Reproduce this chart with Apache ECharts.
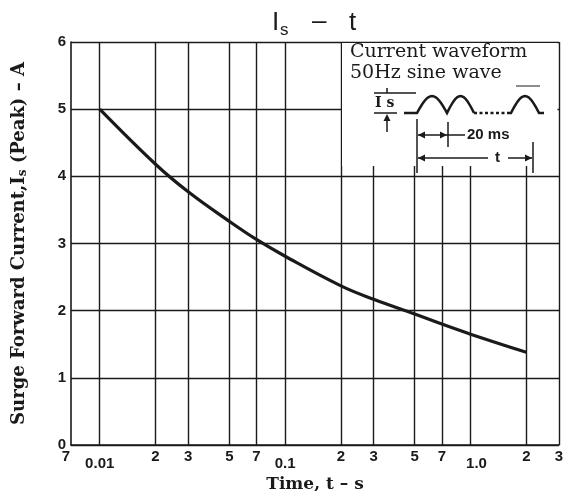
<!DOCTYPE html>
<html><head><meta charset="utf-8">
<script src="https://cdn.jsdelivr.net/npm/echarts@6/dist/echarts.min.js"></script>
<style>html,body{margin:0;padding:0;background:#fff}#c{width:574px;height:491px}</style>
</head><body><div id="c"></div>
<script>
// Data
const timeS  = [0.01, 0.02, 0.03, 0.05, 0.07, 0.1, 0.2, 0.3, 0.5, 0.7, 1.0, 2];
const surgeA = [5.0, 4.18, 3.77, 3.33, 3.06, 2.81, 2.37, 2.17, 1.95, 1.8, 1.65, 1.38];
const xTickValues = [0.007, 0.01, 0.02, 0.03, 0.05, 0.07, 0.1, 0.2, 0.3, 0.5, 0.7, 1, 2, 3];
const xTickLabels = ['7', '0.01', '2', '3', '5', '7', '0.1', '2', '3', '5', '7', '1.0', '2', '3'];
const xGridValues = [0.01, 0.02, 0.03, 0.05, 0.07, 0.1, 0.2, 0.3, 0.5, 0.7, 1, 2, 3];
const yMin = 0, yMax = 6, yStep = 1;

const chart = echarts.init(document.getElementById('c'), null, {renderer: 'canvas'});
const INK = '#1a1a1a';
const serif = 'DejaVu Serif';

function hump(x0, w, yb, h) {
  const pts = [];
  for (let i = 0; i <= 16; i++) {
    const t = i / 16;
    pts.push([x0 + t * w, yb - h * Math.sin(Math.PI * t)]);
  }
  return pts;
}
const yb = 113, hh = 17;
const wave = [[404, yb], [417, yb]].concat(hump(417, 30, yb, hh)).concat(hump(447, 27, yb, hh));
const wave2 = [[508, yb]].concat(hump(511, 28, yb, hh)).concat([[544, yb]]);

function arrowHead(x, y, dir) {
  return {type: 'polygon', zlevel: 1, shape: {points: [[x, y], [x - dir * 7, y - 3.5], [x - dir * 7, y + 3.5]]}, style: {fill: INK}};
}
function ln(x1, y1, x2, y2, w, dash) {
  return {type: 'line', zlevel: 1, shape: {x1, y1, x2, y2}, style: {stroke: INK, lineWidth: w || 1.5, lineDash: dash || null}};
}

const graphics = [
  // title
  {type: 'text', left: 272, top: 10, style: {text: 'I', font: '26px Liberation Sans', fill: INK}},
  {type: 'text', left: 280, top: 22, style: {text: 's', font: '17px Liberation Sans', fill: INK}},
  {type: 'text', left: 312, top: 9, style: {text: '–', font: '26px Liberation Sans', fill: INK}},
  {type: 'text', left: 349, top: 10, style: {text: 't', font: '26px Liberation Sans', fill: INK}},
  // inset
  {type: 'rect', zlevel: 1, shape: {x: 342, y: 43, width: 215.5, height: 123}, style: {fill: '#fff'}},
  {type: 'text', zlevel: 1, x: 350, y: 43, style: {text: 'Current waveform', font: '19px ' + serif, fill: INK}},
  {type: 'text', zlevel: 1, x: 350, y: 64, style: {text: '50Hz sine wave', font: '19px ' + serif, fill: INK}},
  ln(516, 86, 540, 86, 1),
  {type: 'text', zlevel: 1, x: 375, y: 96, style: {text: 'I s', font: 'bold 14px ' + serif, fill: INK}},
  ln(374, 93, 416, 93, 1.5),
  ln(387, 88, 387, 93, 1.5),
  ln(374, 113, 397, 113, 1.5),
  ln(387, 116, 387, 132, 1.5),
  {type: 'polygon', zlevel: 1, shape: {points: [[387, 114], [383.5, 121], [390.5, 121]]}, style: {fill: INK}},
  {type: 'polyline', zlevel: 1, shape: {points: wave}, style: {stroke: INK, lineWidth: 2.5, fill: null}},
  ln(474, yb, 508, yb, 2.5, [3, 2.5]),
  {type: 'polyline', zlevel: 1, shape: {points: wave2}, style: {stroke: INK, lineWidth: 2.5, fill: null}},
  ln(417, 119, 417, 173, 1.5),
  ln(448, 122, 448, 147, 1.5),
  ln(533, 142, 533, 173, 1.5),
  ln(418, 135, 465, 135, 1.5),
  arrowHead(418, 135, -1), arrowHead(447, 135, 1),
  {type: 'text', zlevel: 1, x: 467, y: 127, style: {text: '20 ms', font: 'bold 15px Liberation Sans', fill: INK}},
  ln(418, 158, 488, 158, 1.5),
  arrowHead(418, 158, -1),
  {type: 'text', zlevel: 1, x: 495, y: 150, style: {text: 't', font: 'bold 15px Liberation Sans', fill: INK}},
  ln(508, 158, 532, 158, 1.5),
  arrowHead(532, 158, 1)
];

const option = {
  backgroundColor: '#fff',
  animation: false,
  grid: {left: 71, right: 15, top: 42, bottom: 46, containLabel: false, outerBoundsMode: 'none'},
  xAxis: {
    type: 'log', logBase: 10, min: 0.007, max: 3,
    name: 'Time, t – s', nameLocation: 'middle', nameGap: 22,
    nameTextStyle: {fontFamily: serif, fontWeight: 'bold', fontSize: 17, color: INK},
    axisLine: {show: true, lineStyle: {color: INK, width: 1.6}},
    axisTick: {show: false, customValues: xTickValues},
    splitLine: {show: false},
    axisLabel: {
      customValues: xTickValues,
      margin: 4,
      fontFamily: 'Liberation Sans', fontWeight: 'bold', fontSize: 15, color: INK,
      formatter: function (v) {
        const i = xTickValues.findIndex(t => Math.abs(t - v) / t < 1e-6);
        if (i < 0) return '';
        const s = xTickLabels[i];
        if (i === 0) return '{l|' + s + '}';
        if (s === '1.0') return '{r|' + s + '}';
        return s.indexOf('.') >= 0 ? '{d|' + s + '}' : s;
      },
      rich: {
        d: {fontFamily: 'Liberation Sans', fontWeight: 'bold', fontSize: 15, color: INK, padding: [7, 0, 0, 0]},
        r: {fontFamily: 'Liberation Sans', fontWeight: 'bold', fontSize: 15, color: INK, padding: [7, 0, 0, 12]},
        l: {fontFamily: 'Liberation Sans', fontWeight: 'bold', fontSize: 15, color: INK, padding: [0, 10, 0, 0]}
      }
    }
  },
  yAxis: {
    type: 'value', min: yMin, max: yMax, interval: yStep,
    name: 'Surge Forward Current,I{s|s} (Peak) – A', nameLocation: 'middle', nameGap: 42,
    nameTextStyle: {fontFamily: serif, fontWeight: 'bold', fontSize: 18, color: INK,
      rich: {s: {fontFamily: serif, fontWeight: 'bold', fontSize: 12, color: INK, verticalAlign: 'bottom', padding: [7, 0, 0, 0]}}},
    axisLine: {show: true, lineStyle: {color: INK, width: 1.6}},
    axisTick: {show: false},
    splitLine: {show: true, lineStyle: {color: INK, width: 1.3}},
    axisLabel: {fontFamily: 'Liberation Sans', fontWeight: 'bold', fontSize: 15, color: INK, margin: 5}
  },
  series: [{
    type: 'line',
    data: timeS.map((t, i) => [t, surgeA[i]]),
    smooth: 0.4,
    symbol: 'none',
    lineStyle: {color: INK, width: 3.2},
    z: 5,
    markLine: {
      silent: true, symbol: ['none', 'none'], label: {show: false},
      lineStyle: {color: INK, width: 1.4, type: 'solid'},
      data: xGridValues.map(v => ({xAxis: v}))
    }
  }],
  graphic: graphics
};
chart.setOption(option);
</script></body></html>
